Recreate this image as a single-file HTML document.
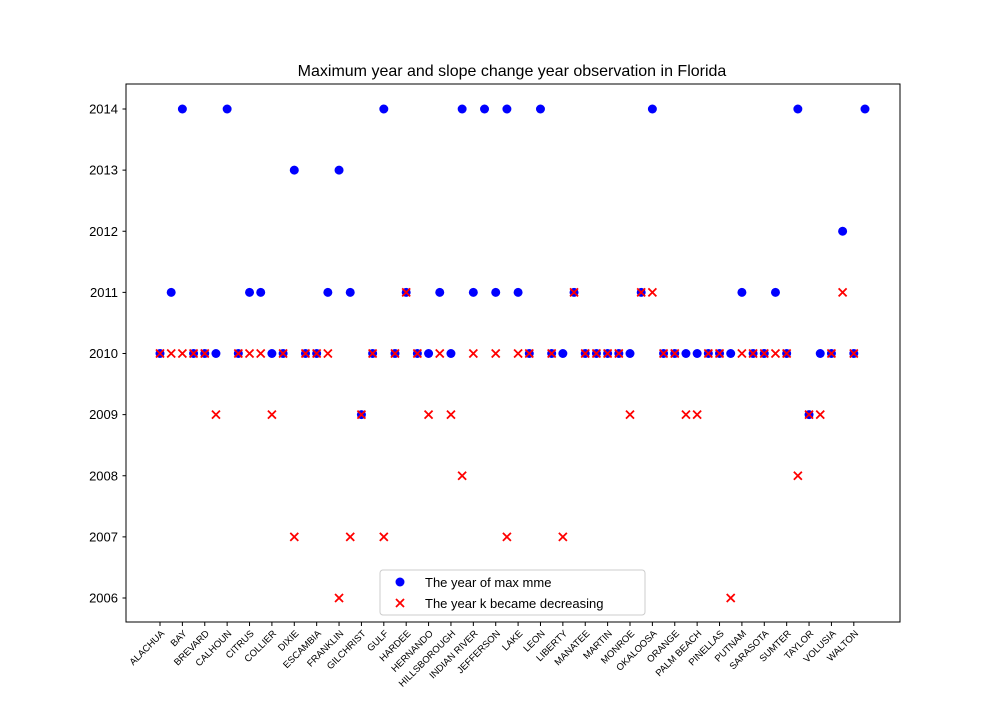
<!DOCTYPE html>
<html><head><meta charset="utf-8"><style>body{margin:0;background:#fff}svg{font-family:"Liberation Sans","DejaVu Sans",sans-serif}</style></head>
<body>
<svg id="chart" width="1000" height="700">
<rect width="1000" height="700" fill="#fff"/>
<text x="512" y="76" text-anchor="middle" font-size="16">Maximum year and slope change year observation in Florida</text>
<g id="plot"></g>
<rect x="126" y="84" width="774" height="538" fill="none" stroke="#000" stroke-width="1"/>
<g>
<rect x="380" y="570" width="265" height="45" rx="3" fill="#fff" fill-opacity="0.8" stroke="#ccc"/>
<circle cx="400" cy="582" r="4.5" fill="#0000ff"/>
<text x="425" y="587" font-size="13">The year of max mme</text>
<g stroke="red" stroke-width="1.8"><line x1="396" y1="599" x2="404" y2="607"/><line x1="396" y1="607" x2="404" y2="599"/></g>
<text x="425" y="608" font-size="13">The year k became decreasing</text>
</g>
</svg>
<script>
const tickLabels=["ALACHUA","BAY","BREVARD","CALHOUN","CITRUS","COLLIER","DIXIE","ESCAMBIA","FRANKLIN","GILCHRIST","GULF","HARDEE","HERNANDO","HILLSBOROUGH","INDIAN RIVER","JEFFERSON","LAKE","LEON","LIBERTY","MANATEE","MARTIN","MONROE","OKALOOSA","ORANGE","PALM BEACH","PINELLAS","PUTNAM","SARASOTA","SUMTER","TAYLOR","VOLUSIA","WALTON"];
const maxYear=[2010,2011,2014,2010,2010,2010,2014,2010,2011,2011,2010,2010,2013,2010,2010,2011,2013,2011,2009,2010,2014,2010,2011,2010,2010,2011,2010,2014,2011,2014,2011,2014,2011,2010,2014,2010,2010,2011,2010,2010,2010,2010,2010,2011,2014,2010,2010,2010,2010,2010,2010,2010,2011,2010,2010,2011,2010,2014,2009,2010,2010,2012,2010,2014];
const kYear=[2010,2010,2010,2010,2010,2009,null,2010,2010,2010,2009,2010,2007,2010,2010,2010,2006,2007,2009,2010,2007,2010,2011,2010,2009,2010,2009,2008,2010,null,2010,2007,2010,2010,null,2010,2007,2011,2010,2010,2010,2010,2009,2011,2011,2010,2010,2009,2009,2010,2010,2006,2010,2010,2010,2010,2010,2008,2009,2009,2010,2011,2010,null];
const yTicks=[2006,2007,2008,2009,2010,2011,2012,2013,2014];
const NS='http://www.w3.org/2000/svg';
const g=document.getElementById('plot');
const n=maxYear.length;
const xs=i=>160+i*(705/(n-1));
const ys=v=>109+(2014-v)*61.125;
function mk(t,a){const e=document.createElementNS(NS,t);for(const k in a)e.setAttribute(k,a[k]);g.appendChild(e);return e;}
yTicks.forEach(v=>{
  const y=ys(v);
  const l=mk('line',{x1:122.5,x2:126,y1:y,y2:y,stroke:'#000'});
  
  
  const t=mk('text',{x:118,y:y+4.5,'text-anchor':'end','font-size':'13'});
  t.textContent=v;
  
  
});
tickLabels.forEach((s,j)=>{
  const x=xs(j*2);
  const l=mk('line',{x1:x,x2:x,y1:622,y2:626,stroke:'#000'});
  
  
  const ax=x+5, ay=634;
  const t=mk('text',{x:ax,y:ay,'text-anchor':'end','font-size':'9.5',transform:`rotate(-45 ${ax} ${ay})`});
  t.textContent=s;
  
  
});
maxYear.forEach((v,i)=>{
  if(v==null)return;
  const c=mk('circle',{cx:xs(i),cy:ys(v),r:4.5,fill:'#0000ff'});
  
  
});
kYear.forEach((v,i)=>{
  if(v==null)return;
  const x=xs(i),y=ys(v);
  const p=mk('path',{d:`M${x-4} ${y-4}L${x+4} ${y+4}M${x-4} ${y+4}L${x+4} ${y-4}`,stroke:'red','stroke-width':1.8,fill:'none'});
  
  
});
</script>
</body></html>
